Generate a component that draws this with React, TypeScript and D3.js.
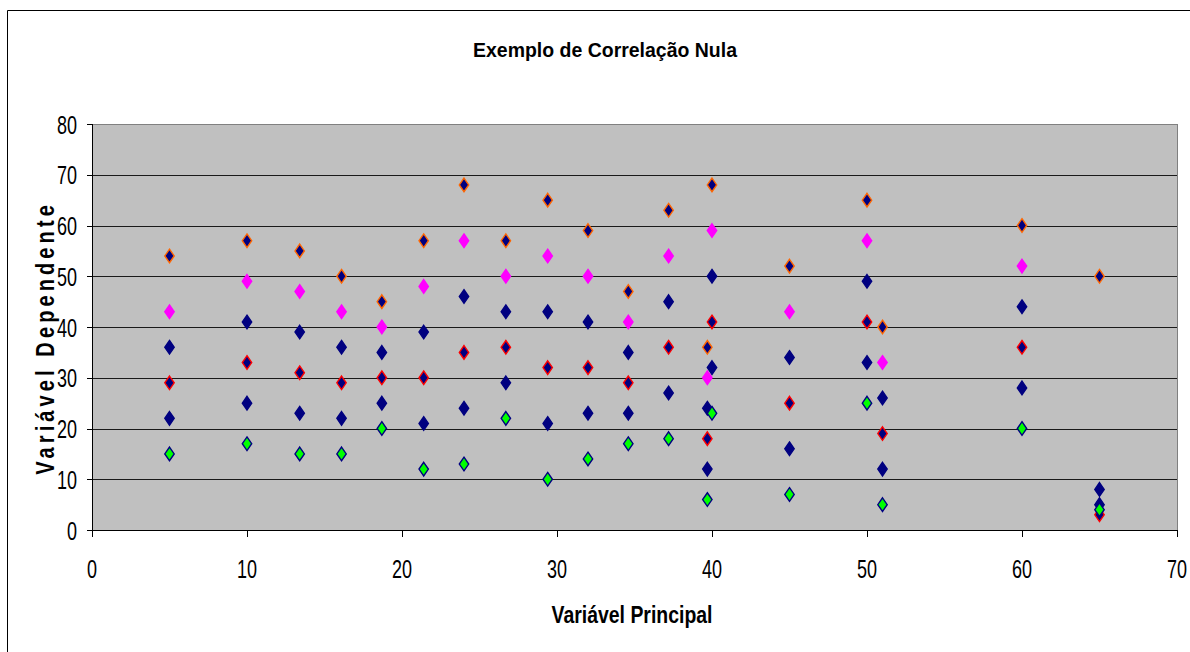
import React from "react";
import * as d3 from "d3";

const xValues = [5, 10, 13.4, 16.1, 18.7, 21.4, 24, 26.7, 29.4, 32, 34.6, 37.2, 39.7, 40, 45, 50, 51, 60, 65];
const orangeSeries = [54, 57, 55, 50, 45, 57, 68, 57, 65, 59, 47, 63, 36, 68, 52, 65, 40, 60, 50];
const magentaSeries: (number | null)[] = [43, 49, 47, 43, 40, 48, 57, 50, 54, 50, 41, 54, 30, 59, 43, 57, 33, 52, null];
const navyUpperSeries = [36, 41, 39, 36, 35, 39, 46, 43, 43, 41, 35, 45, 24, 50, 34, 49, 26, 44, 8];
const redSeries = [29, 33, 31, 29, 30, 30, 35, 36, 32, 32, 29, 36, 18, 41, 25, 41, 19, 36, 3];
const navyLowerSeries = [22, 25, 23, 22, 25, 21, 24, 29, 21, 23, 23, 27, 12, 32, 16, 33, 12, 28, 5];
const greenSeries = [15, 17, 15, 15, 20, 12, 13, 22, 10, 14, 17, 18, 6, 23, 7, 25, 5, 20, 4];

const xTicks = [0, 10, 20, 30, 40, 50, 60, 70];
const yTicks = [0, 10, 20, 30, 40, 50, 60, 70, 80];

const title = "Exemplo de Correlação Nula";
const xTitle = "Variável Principal";
const yTitle = "Variável Dependente";

const seriesList = [
  { values: orangeSeries, fill: "#000080", stroke: "#FF6600" },
  { values: redSeries, fill: "#000080", stroke: "#FF0000" },
  { values: navyUpperSeries, fill: "#000080", stroke: "#000080" },
  { values: navyLowerSeries, fill: "#000080", stroke: "#000080" },
  { values: magentaSeries, fill: "#FF00FF", stroke: "#FF00FF" },
  { values: greenSeries, fill: "#00FF00", stroke: "#000080" },
];

const W = 1190;
const H = 652;
const left = 92;
const right = 1177;
const top = 124;
const bottom = 530;

export default function App() {
  const x = d3.scaleLinear().domain([0, 70]).range([left, right]);
  const y = d3.scaleLinear().domain([0, 80]).range([bottom, top]);
  const font = "'Liberation Sans', Arial, sans-serif";
  const hw = 4.7;
  const hh = 6.8;
  const diamond = (cx: number, cy: number) =>
    `M${cx},${cy - hh}L${cx + hw},${cy}L${cx},${cy + hh}L${cx - hw},${cy}Z`;

  return (
    <svg
      width={W}
      height={H}
      style={{ position: "absolute", left: 0, top: 0, background: "#fff" }}
      fontFamily={font}
    >
      <rect x={0} y={0} width={W} height={H} fill="#fff" />
      {/* outer chart frame */}
      <line x1={7.5} y1={10.5} x2={W} y2={10.5} stroke="#000" strokeWidth={1} />
      <line x1={7.5} y1={10.5} x2={7.5} y2={H} stroke="#000" strokeWidth={1} />

      {/* plot area */}
      <rect x={left} y={top} width={right - left} height={bottom - top} fill="#C0C0C0" />
      {yTicks.filter((t) => t > 0 && t < 80).map((t) => (
        <line key={"g" + t} x1={left} x2={right} y1={Math.round(y(t)) + 0.5} y2={Math.round(y(t)) + 0.5} stroke="#1a1a1a" strokeWidth={1} />
      ))}
      <line x1={left} x2={right} y1={top + 0.5} y2={top + 0.5} stroke="#808080" strokeWidth={1} />
      <line x1={right + 0.5} x2={right + 0.5} y1={top} y2={bottom} stroke="#808080" strokeWidth={1} />
      <line x1={left} x2={right + 1} y1={bottom + 0.5} y2={bottom + 0.5} stroke="#000" strokeWidth={1} />
      <line x1={left + 0.5} x2={left + 0.5} y1={top} y2={bottom + 1} stroke="#000" strokeWidth={1} />

      {/* y ticks */}
      {yTicks.map((t) => (
        <g key={"yt" + t}>
          <line x1={left - 5} x2={left} y1={Math.round(y(t)) + 0.5} y2={Math.round(y(t)) + 0.5} stroke="#000" />
          <text
            transform={`translate(${77},${y(t) + 9.5}) scale(0.68,1)`}
            textAnchor="end"
            fontSize={26.5}
            fill="#000"
          >
            {t}
          </text>
        </g>
      ))}
      {/* x ticks */}
      {xTicks.map((t) => (
        <g key={"xt" + t}>
          <line x1={Math.round(x(t)) + 0.5} x2={Math.round(x(t)) + 0.5} y1={bottom} y2={bottom + 7} stroke="#000" />
          <text
            transform={`translate(${x(t)},${578}) scale(0.68,1)`}
            textAnchor="middle"
            fontSize={26.5}
            fill="#000"
          >
            {t}
          </text>
        </g>
      ))}

      {/* markers */}
      {seriesList.map((s, si) => (
        <g key={"s" + si}>
          {xValues.map((xv, i) => {
            const v = s.values[i];
            if (v === null || v === undefined) return null;
            return (
              <path
                key={i}
                d={diamond(x(xv), y(v))}
                fill={s.fill}
                stroke={s.stroke}
                strokeWidth={1.4}
              />
            );
          })}
        </g>
      ))}

      {/* titles */}
      <text x={605} y={57} textAnchor="middle" fontWeight="bold" fontSize={21} textLength={264} lengthAdjust="spacingAndGlyphs">
        {title}
      </text>
      <text x={632} y={623} textAnchor="middle" fontWeight="bold" fontSize={23} textLength={161} lengthAdjust="spacingAndGlyphs">
        {xTitle}
      </text>
      <text
        transform={`translate(54,340) rotate(-90) scale(0.8,1)`}
        textAnchor="middle"
        fontWeight="bold"
        fontSize={25}
        textLength={337}
        lengthAdjust="spacing"
      >
        {yTitle}
      </text>
    </svg>
  );
}
